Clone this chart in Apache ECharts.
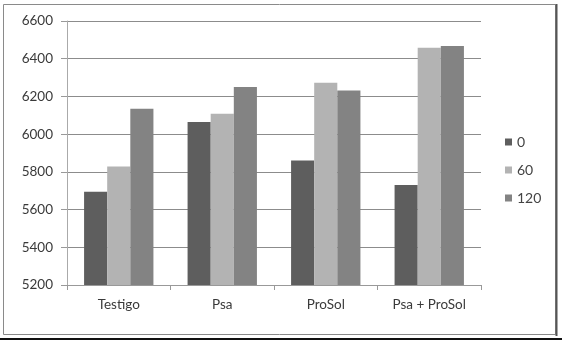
<!DOCTYPE html>
<html>
<head>
<meta charset="utf-8">
<script src="https://cdn.jsdelivr.net/npm/echarts@6/dist/echarts.min.js"></script>
<style>
html,body{margin:0;padding:0;background:#fff;}
#chart{width:562px;height:343px;}
</style>
</head>
<body>
<div id="chart"></div>
<script>
const categories = ['Testigo', 'Psa', 'ProSol', 'Psa + ProSol'];
const seriesNames = ['0', '60', '120'];
const values0 = [5695, 6065, 5860, 5730];
const values60 = [5828, 6108, 6273, 6458];
const values120 = [6135, 6250, 6232, 6468];
const yTicks = [5200, 5400, 5600, 5800, 6000, 6200, 6400, 6600];

const colors = ['#5e5e5e', '#b3b3b3', '#838383'];
const font = 'Lato, "Open Sans", sans-serif';

const chart = echarts.init(document.getElementById('chart'), null, {renderer: 'canvas'});
const allValues = [values0, values60, values120];
chart.setOption({
  animation: false,
  backgroundColor: '#ffffff',
  color: colors,
  grid: {left: 67, right: 81, top: 21, bottom: 58, containLabel: false},
  legend: {
    orient: 'vertical',
    left: 505,
    top: 135,
    padding: 0,
    itemWidth: 7,
    itemHeight: 7,
    itemGap: 14,
    icon: 'rect',
    textStyle: {fontFamily: font, fontSize: 14, color: '#444', padding: [0, 0, 0, 0], lineHeight: 14},
    data: seriesNames
  },
  xAxis: {
    type: 'category',
    data: categories,
    axisLine: {lineStyle: {color: '#999', width: 1}},
    axisTick: {show: true, length: 5, lineStyle: {color: '#999'}},
    axisLabel: {fontFamily: font, fontSize: 13.5, color: '#3a3a3a', margin: 13},
    splitLine: {show: false}
  },
  yAxis: {
    type: 'value',
    min: yTicks[0],
    max: yTicks[yTicks.length - 1],
    interval: 200,
    axisLine: {show: true, lineStyle: {color: '#aaa', width: 1}},
    axisTick: {show: true, length: 6, lineStyle: {color: '#999'}},
    axisLabel: {fontFamily: font, fontSize: 13.5, color: '#3a3a3a', margin: 14, formatter: v => String(v)},
    splitLine: {show: true, lineStyle: {color: '#8c8c8c', width: 1}}
  },
  series: seriesNames.map((n, i) => ({
    name: n,
    type: 'bar',
    data: allValues[i],
    barGap: '0%',
    barCategoryGap: '33%',
    itemStyle: {color: colors[i]}
  })),
  graphic: [
    {type: 'rect', shape: {x: 3.5, y: 4.5, width: 552, height: 330}, style: {fill: 'none', stroke: '#8a8a8a', lineWidth: 1}, silent: true},
    {type: 'line', shape: {x1: 556.5, y1: 4, x2: 556.5, y2: 336}, style: {stroke: '#555', lineWidth: 2}, silent: true},
    {type: 'line', shape: {x1: 0, y1: 339, x2: 562, y2: 339}, style: {stroke: '#111', lineWidth: 2}, silent: true}
  ]
});
</script>
</body>
</html>
